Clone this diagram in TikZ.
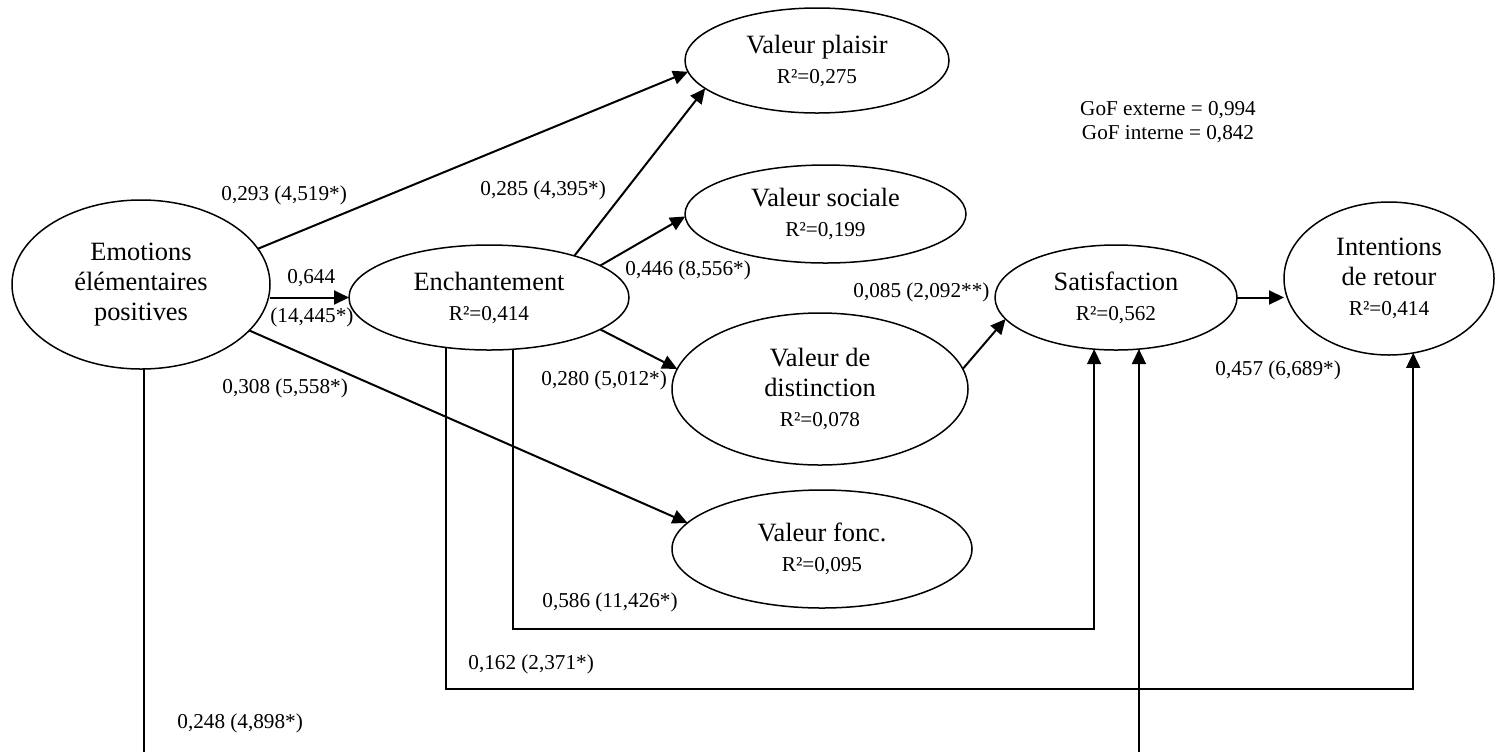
\documentclass[tikz,border=0pt]{standalone}
\usepackage{fontspec}
\setmainfont{Liberation Serif}
\usetikzlibrary{arrows.meta,shapes.geometric}
\newcommand{\rsqline}[1]{{\fontsize{10.6}{13}\selectfont R²=#1}}
\begin{document}
\begin{tikzpicture}[x=0.5pt,y=-0.5pt,
  latent/.style={ellipse,draw,line width=0.75pt,inner sep=0pt,outer sep=0pt,align=center,
    font=\fontsize{13.2}{15}\selectfont},
  arr/.style={line width=1pt,-{Triangle[length=7.5pt,width=7pt]}},
  link/.style={line width=0.9pt,-{Triangle[length=7.5pt,width=7pt]}},
  coef/.style={anchor=base west,inner sep=0pt,font=\fontsize{10.6}{13}\selectfont},
  gof/.style={anchor=base,inner sep=0pt,font=\fontsize{10.6}{13}\selectfont}]
\useasboundingbox (0,0) rectangle (1503,751);
\clip (0,0) rectangle (1503,751);

% latent variables
\node[latent,minimum width=129pt,minimum height=84.5pt] (emo) at (141,284.5)
  {Emotions\\élémentaires\\positives};
\node[latent,minimum width=140pt,minimum height=52.5pt] (enc) at (489,297.5)
  {Enchantement\\\rsqline{0,414}};
\node[latent,minimum width=132pt,minimum height=52.5pt] (pla) at (817,60.5)
  {Valeur plaisir\\\rsqline{0,275}};
\node[latent,minimum width=140.5pt,minimum height=49pt] (soc) at (825.5,214)
  {Valeur sociale\\\rsqline{0,199}};
\node[latent,minimum width=148pt,minimum height=76pt] (dis) at (820,389)
  {Valeur de\\distinction\\\rsqline{0,078}};
\node[latent,minimum width=150pt,minimum height=59pt] (fon) at (822,549)
  {Valeur fonc.\\\rsqline{0,095}};
\node[latent,minimum width=121pt,minimum height=52.5pt] (sat) at (1116,297.5)
  {Satisfaction\\\rsqline{0,562}};
\node[latent,minimum width=105pt,minimum height=76.5pt] (int) at (1389,278.5)
  {Intentions\\de retour\\\rsqline{0,414}};

% helper coordinates for the routed paths
\coordinate (r1) at (0,629);
\coordinate (r2) at (0,689);
\coordinate (r3) at (0,775);

% direct paths
\draw[arr] (emo.17.2) -- (pla.185.4);
\draw[arr] (emo.east |- enc.west) -- (enc.west);
\draw[arr] (emo.-23.7) -- (fon.169.4);
\draw[arr] (enc.26) -- (pla.194.7);
\draw[arr] (enc.16.7) -- (soc.181);
\draw[arr] (enc.-16.7) -- (dis.172.3);
\draw[arr] (dis.8.2) -- (sat.191.8);
\draw[arr] (sat.east) -- (sat.east -| int.west);

% routed paths
\draw[link] (enc.-65) |- (r1 -| sat.-113) -- (sat.-113);
\draw[link] (enc.-131.5) |- (r2 -| int.-72) -- (int.-72);
\draw[link] (emo.-88) |- (r3 -| sat.-66) -- (sat.-66);

% coefficients
\node[coef] (c1) at (221,200) {0,293 (4,519*)};
\node[coef] (c2) at (287,283) {0,644};
\node[coef] (c3) at (270,322) {(14,445*)};
\node[coef] (c4) at (480,195) {0,285 (4,395*)};
\node[coef] (c5) at (625,275) {0,446 (8,556*)};
\node[coef] (c6) at (541,385) {0,280 (5,012*)};
\node[coef] (c7) at (222,393) {0,308 (5,558*)};
\node[coef] (c8) at (853,297) {0,085 (2,092**)};
\node[coef] (c9) at (1215,375) {0,457 (6,689*)};
\node[coef] (c10) at (542,607) {0,586 (11,426*)};
\node[coef] (c11) at (468,669) {0,162 (2,371*)};
\node[coef] (c12) at (177,728) {0,248 (4,898*)};

% fit indices
\node[gof] (g1) at (1168,115) {GoF externe = 0,994};
\node[gof] (g2) at (1168,139) {GoF interne = 0,842};
\end{tikzpicture}
\end{document}
